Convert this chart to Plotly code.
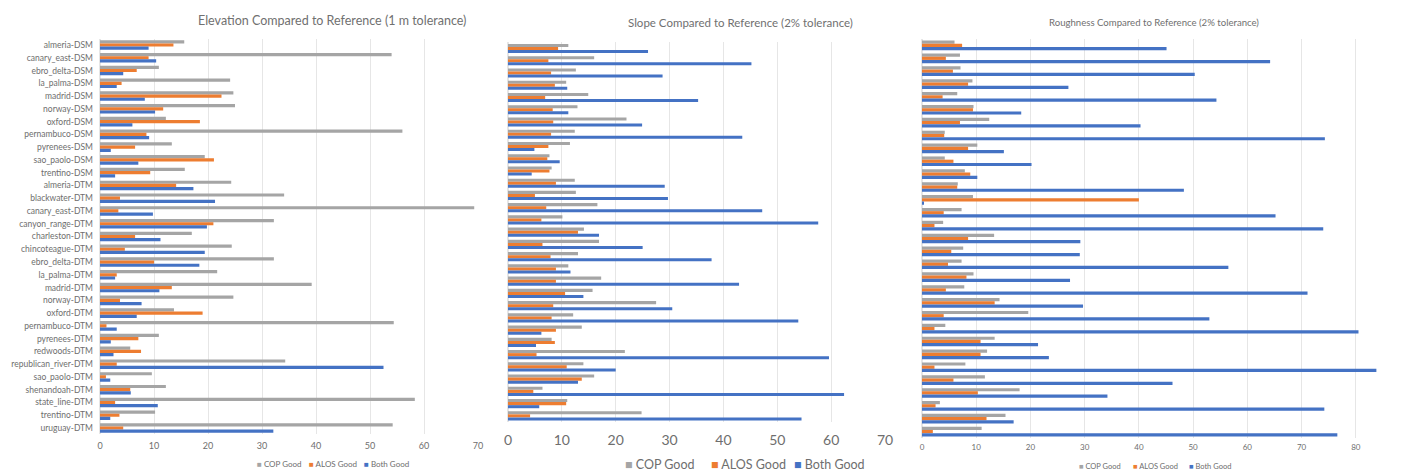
import plotly.graph_objects as go

categories = [
    "almeria-DSM", "canary_east-DSM", "ebro_delta-DSM", "la_palma-DSM", "madrid-DSM",
    "norway-DSM", "oxford-DSM", "pernambuco-DSM", "pyrenees-DSM", "sao_paolo-DSM",
    "trentino-DSM", "almeria-DTM", "blackwater-DTM", "canary_east-DTM", "canyon_range-DTM",
    "charleston-DTM", "chincoteague-DTM", "ebro_delta-DTM", "la_palma-DTM", "madrid-DTM",
    "norway-DTM", "oxford-DTM", "pernambuco-DTM", "pyrenees-DTM", "redwoods-DTM",
    "republican_river-DTM", "sao_paolo-DTM", "shenandoah-DTM", "state_line-DTM",
    "trentino-DTM", "uruguay-DTM",
]

series_names = ["COP Good", "ALOS Good", "Both Good"]

# Elevation (1 m tolerance)
elev_cop = [15.6, 54.0, 10.9, 24.1, 24.7, 25.0, 12.2, 56.0, 13.3, 19.4, 15.7, 24.3, 34.1, 69.3, 32.2,
            17.0, 24.4, 32.2, 21.7, 39.2, 24.7, 13.7, 54.4, 10.9, 5.6, 34.3, 9.6, 12.2, 58.3, 10.2, 54.2]
elev_alos = [13.6, 9.0, 6.8, 4.0, 22.5, 11.7, 18.5, 8.6, 6.5, 21.1, 9.3, 14.1, 3.7, 3.4, 21.0,
             6.5, 4.6, 10.0, 3.1, 13.3, 3.7, 19.0, 1.2, 7.1, 7.6, 3.1, 1.1, 5.6, 2.8, 3.6, 4.3]
elev_both = [9.0, 10.4, 4.3, 3.1, 8.3, 10.2, 6.0, 9.1, 2.0, 7.1, 2.8, 17.3, 21.3, 9.8, 19.8,
             11.2, 19.4, 18.4, 2.8, 11.0, 7.7, 6.8, 3.1, 2.0, 2.5, 52.5, 1.9, 5.7, 10.7, 1.9, 32.1]

# Slope (2% tolerance)
slope_cop = [11.2, 16.0, 12.6, 10.8, 14.9, 12.9, 22.0, 12.4, 11.5, 7.7, 8.1, 12.4, 12.6, 16.6, 10.1,
             14.1, 16.9, 13.0, 11.2, 17.3, 15.7, 27.5, 12.1, 13.7, 8.1, 21.7, 14.0, 16.0, 6.4, 11.0, 24.8]
slope_alos = [9.3, 7.5, 8.0, 8.7, 6.9, 8.3, 8.4, 8.0, 7.5, 7.3, 7.7, 8.9, 5.0, 7.1, 6.2,
              13.0, 6.4, 7.9, 8.9, 8.9, 10.6, 8.4, 8.1, 8.9, 8.7, 5.3, 10.9, 13.7, 4.7, 10.8, 4.1]
slope_both = [26.0, 45.2, 28.7, 11.0, 35.3, 11.2, 24.9, 43.5, 4.9, 9.6, 4.4, 29.1, 29.7, 47.2, 57.6,
              16.9, 25.0, 37.8, 11.6, 42.9, 14.0, 30.5, 53.9, 6.2, 5.2, 59.6, 20.0, 13.0, 62.4, 5.8, 54.5]

# Roughness (2% tolerance)
rough_cop = [6.0, 7.0, 7.1, 9.3, 6.5, 9.5, 12.4, 4.2, 10.2, 4.2, 7.9, 6.6, 9.4, 7.3, 3.9,
             13.3, 7.6, 7.3, 9.5, 7.8, 14.3, 19.6, 4.3, 13.4, 12.0, 8.0, 11.6, 18.0, 3.3, 15.4, 11.0]
rough_alos = [7.4, 4.4, 5.7, 8.5, 3.8, 9.4, 7.0, 4.1, 8.5, 5.8, 8.9, 6.5, 40.0, 4.0, 2.3,
              8.5, 5.4, 4.8, 8.2, 4.4, 13.4, 4.0, 2.3, 10.8, 10.8, 2.3, 5.8, 10.3, 2.5, 11.9, 2.0]
rough_both = [45.1, 64.2, 50.3, 27.0, 54.3, 18.3, 40.3, 74.3, 15.1, 20.2, 10.2, 48.3, 0.2, 65.2, 74.0,
              29.2, 29.1, 56.5, 27.3, 71.1, 29.7, 53.0, 80.5, 21.4, 23.4, 83.8, 46.2, 34.2, 74.2, 16.9, 76.6]

titles = [
    "Elevation Compared to Reference (1 m tolerance)",
    "Slope Compared to Reference (2% tolerance)",
    "Roughness Compared to Reference (2% tolerance)",
]

colors = ["#A5A5A5", "#ED7D31", "#4472C4"]
W, H = 1407, 470
OFF = 8  # page body margin: the figure is drawn 8 px right and down in the window
FONT = "Lato, 'Liberation Sans', sans-serif"
TXT = "#6E6E6E"

panels = [
    ([elev_cop, elev_alos, elev_both], "x", "y"),
    ([slope_cop, slope_alos, slope_both], "x2", "y2"),
    ([rough_cop, rough_alos, rough_both], "x3", "y3"),
]

fig = go.Figure()
for vals, xa, ya in panels:
    for name, v, c in zip(series_names, vals, colors):
        fig.add_trace(go.Bar(
            y=categories, x=v, name=name, orientation="h",
            marker=dict(color=c, line=dict(width=0)),
            xaxis=xa, yaxis=ya, showlegend=False,
        ))

def px_x(p):
    return (p - OFF) / W

def px_y(p):
    return 1 - (p - OFF) / H

grid = "#E6E6E6"
common_x = dict(showgrid=True, gridcolor=grid, gridwidth=1, zeroline=True, zerolinecolor=grid,
                showline=False, ticks="", automargin=False)
common_y = dict(autorange="reversed", type="category", showgrid=False, ticks="",
                showline=False, automargin=False)

fig.update_layout(
    width=W, height=H,
    margin=dict(l=0, r=0, t=0, b=0, autoexpand=False),
    paper_bgcolor="white", plot_bgcolor="white",
    barmode="group", bargap=0.25, bargroupgap=0,
    font=dict(family=FONT, color=TXT),
    xaxis=dict(domain=[px_x(100), px_x(478)], range=[0, 70], anchor="y",
               tickmode="linear", tick0=0, dtick=10,
               tickfont=dict(size=9, color=TXT), ticklabelstandoff=5, **common_x),
    yaxis=dict(domain=[px_y(434.4), px_y(38.6)], anchor="x",
               tickfont=dict(size=8.5, color=TXT), ticklabelstandoff=6, **common_y),
    xaxis2=dict(domain=[px_x(508), px_x(885)], range=[0, 70], anchor="y2",
                tickmode="linear", tick0=0, dtick=10,
                tickfont=dict(size=14, color=TXT), ticklabelstandoff=8, **common_x),
    yaxis2=dict(domain=[px_y(422), px_y(42.4)], anchor="x2", showticklabels=False, **common_y),
    xaxis3=dict(domain=[px_x(922), px_x(1410)], range=[0, 90], anchor="y3",
                tickmode="array", tickvals=[0, 10, 20, 30, 40, 50, 60, 70, 80],
                tickfont=dict(size=8, color=TXT), ticklabelstandoff=3, **common_x),
    yaxis3=dict(domain=[px_y(438), px_y(39)], anchor="x3", showticklabels=False, **common_y),
)

# titles
title_specs = [(332, 20, 12.5), (740, 23, 11.5), (1154, 22, 9.6)]
for t, (cx, cy, fs) in zip(titles, title_specs):
    fig.add_annotation(text=t, x=px_x(cx), y=px_y(cy), xref="paper", yref="paper",
                       xanchor="center", yanchor="middle", showarrow=False,
                       font=dict(size=fs, color="#707070", family=FONT))

# legends (one per chart)
legend_specs = [
    ([279, 333, 387], 464, 8),
    ([660, 748, 830], 464, 12.5),
    ([1100, 1155, 1210], 466, 7.5),
]
for centers, ly, fs in legend_specs:
    for name, c, cx in zip(series_names, colors, centers):
        fig.add_annotation(
            text=f"<span style='color:{c}'>■</span> {name}",
            x=px_x(cx), y=px_y(ly), xref="paper", yref="paper",
            xanchor="center", yanchor="middle", showarrow=False, borderpad=0,
            font=dict(size=fs, color=TXT, family=FONT))

fig.write_html("out.html")
